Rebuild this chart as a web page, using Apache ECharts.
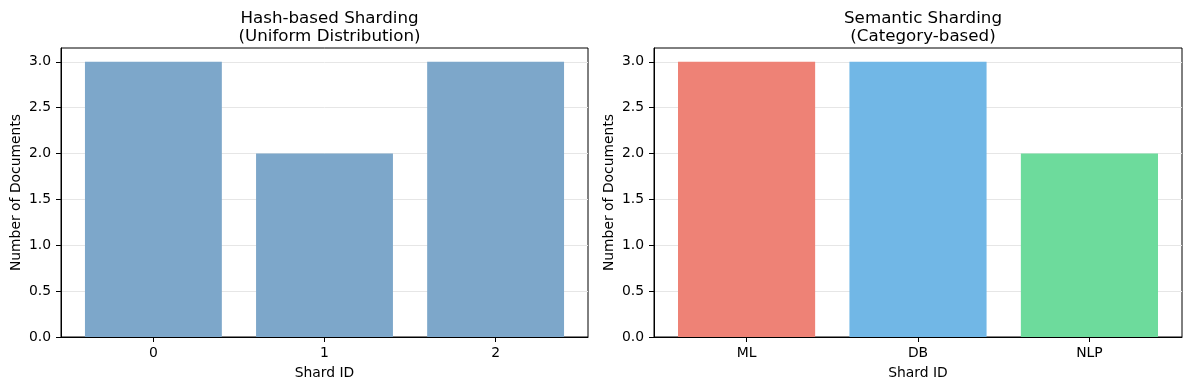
<!DOCTYPE html>
<html>
<head>
<meta charset="utf-8">
<script src="https://cdn.jsdelivr.net/npm/echarts@6/dist/echarts.min.js"></script>
<style>
html,body{margin:0;padding:0;background:#fff;}
#chart{width:1189px;height:390px;}
</style>
</head>
<body>
<div id="chart"></div>
<script>
// ---- data ----
const leftCategories = ['0', '1', '2'];
const leftValues = [3, 2, 3];
const rightCategories = ['ML', 'DB', 'NLP'];
const rightValues = [3, 3, 2];
const rightColors = ['#EE8276', '#71B7E6', '#6DDB9C'];
const leftColor = '#7DA7CA';
const yMax = 3.0;          // top tick
const yTickStep = 0.5;
const titles = ['Hash-based Sharding\n(Uniform Distribution)', 'Semantic Sharding\n(Category-based)'];
const xName = 'Shard ID';
const yName = 'Number of Documents';

const FONT = 'DejaVu Sans';
const chart = echarts.init(document.getElementById('chart'));

// layout of the two panels
const panels = [{left: 61, width: 527}, {left: 654, width: 528}];
const frameTop = 48, frameH = 289;
const yTop = yMax * 1.05;                      // matplotlib margin
const tickTop = frameTop + frameH * (1 - yMax / yTop);
const tickH = frameH * yMax / yTop;

const grids = [], xAxes = [], yAxes = [], series = [];
panels.forEach((p, k) => {
  const cats = k === 0 ? leftCategories : rightCategories;
  const n = cats.length;
  const span = n - 1 + 0.8 + 0.1 * (n - 1 + 0.8);   // matplotlib x-limits span
  const unit = p.width / span;
  const pad = (span - n) / 2 * unit;
  // frame grid
  const g0 = grids.length;
  grids.push({left: p.left, top: frameTop, width: p.width, height: frameH, show: true,
              borderColor: '#000', borderWidth: 1, backgroundColor: 'transparent'});
  xAxes.push({type: 'value', gridIndex: g0, min: 0, max: 1,
              axisLine: {show: true, onZero: false, lineStyle: {color: '#000', width: 1}},
              axisTick: {show: false}, axisLabel: {show: false}, splitLine: {show: false}});
  yAxes.push({type: 'value', gridIndex: g0, min: 0, max: 1,
              name: yName, nameLocation: 'middle', nameGap: 38,
              nameTextStyle: {fontFamily: FONT, fontSize: 13.9, color: '#000'},
              axisLine: {show: true, lineStyle: {color: '#000', width: 1}},
              axisTick: {show: false}, axisLabel: {show: false}, splitLine: {show: false}});
  // ticks grid
  const g1 = grids.length;
  grids.push({left: p.left, top: tickTop, width: p.width, height: tickH});
  xAxes.push({type: 'value', gridIndex: g1, min: 0, max: 1, show: false});
  yAxes.push({type: 'value', gridIndex: g1, min: 0, max: yMax, interval: yTickStep,
              axisLine: {show: false},
              axisTick: {show: true, length: 5, lineStyle: {color: '#000'}},
              axisLabel: {fontFamily: FONT, fontSize: 13.9, color: '#000', margin: 10,
                          formatter: v => v.toFixed(1)},
              splitLine: {show: true, showMinLine: false, lineStyle: {color: '#e6e6e6', width: 1}}});
  // bars grid
  const g2 = grids.length;
  grids.push({left: p.left + pad, top: tickTop, width: n * unit, height: tickH});
  xAxes.push({type: 'category', gridIndex: g2, data: cats, boundaryGap: true,
              name: xName, nameLocation: 'middle', nameGap: 29,
              nameTextStyle: {fontFamily: FONT, fontSize: 13.9, color: '#000'},
              axisLine: {show: false},
              axisTick: {show: true, alignWithLabel: true, length: 5, lineStyle: {color: '#000'}},
              axisLabel: {fontFamily: FONT, fontSize: 13.9, color: '#000', margin: 9},
              splitLine: {show: false}});
  yAxes.push({type: 'value', gridIndex: g2, min: 0, max: yMax, show: false});
  const vals = k === 0 ? leftValues : rightValues;
  series.push({type: 'bar', xAxisIndex: g2, yAxisIndex: g2, barWidth: '80%',
               itemStyle: {color: leftColor},
               data: vals.map((v, i) => k === 0 ? v : {value: v, itemStyle: {color: rightColors[i]}})});
});

const option = {
  animation: false,
  backgroundColor: '#fff',
  title: titles.map((t, k) => ({
    text: t, left: panels[k].left + panels[k].width / 2, top: 5, textAlign: 'center',
    textStyle: {fontFamily: FONT, fontSize: 16.7, fontWeight: 'normal', color: '#000', lineHeight: 17.5}
  })),
  grid: grids,
  xAxis: xAxes,
  yAxis: yAxes,
  series: series
};
chart.setOption(option);
</script>
</body>
</html>
